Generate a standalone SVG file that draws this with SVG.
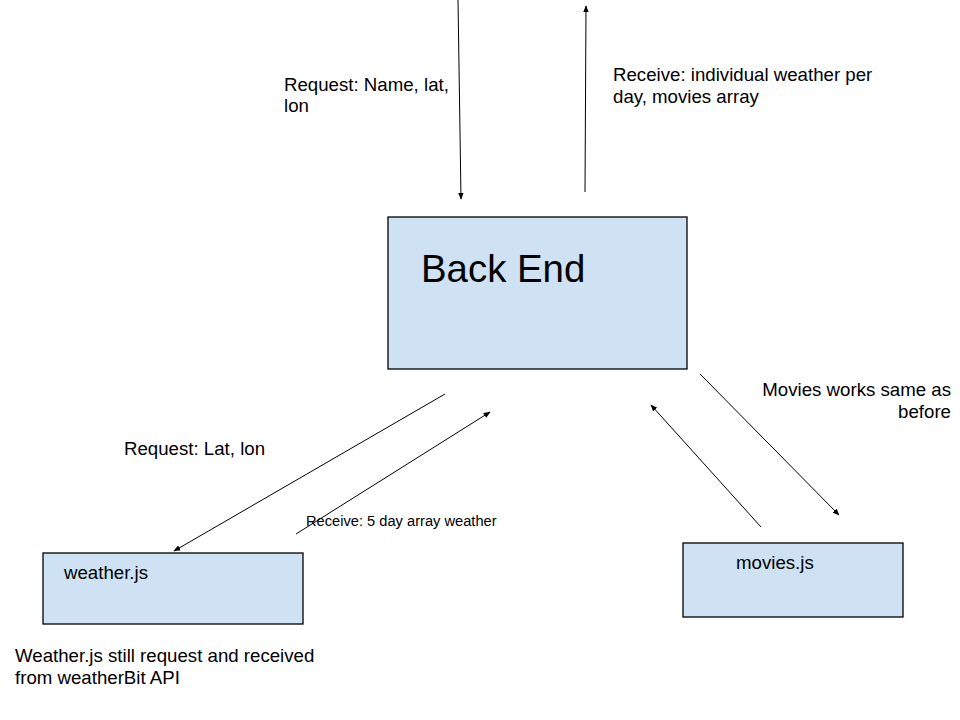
<svg xmlns="http://www.w3.org/2000/svg" width="960" height="720" viewBox="0 0 960 720">
<style>
.box{fill:#cfe2f3;stroke:#000;stroke-width:1.3}
.t{font-family:"Liberation Sans",Arial,sans-serif;font-size:18.67px;fill:#000}
.s{font-size:14.67px}
.big{font-size:38.4px}
.c{stroke:#000;stroke-width:1;fill:none;marker-end:url(#ah)}
</style>
<defs>
<marker id="ah" viewBox="0 0 10 10" refX="9" refY="5" markerWidth="7" markerHeight="7" markerUnits="userSpaceOnUse" orient="auto">
<path d="M0,1 L10,5 L0,9 Z" fill="#000"/>
</marker>
</defs>
<rect width="960" height="720" fill="#fff"/>
<g id="connectors">
<line class="c" x1="458" y1="0" x2="461" y2="199"/>
<line class="c" x1="585" y1="192" x2="586" y2="6"/>
<line class="c" x1="445" y1="394" x2="174" y2="551"/>
<line class="c" x1="296" y1="534" x2="490" y2="412"/>
<line class="c" x1="700" y1="374" x2="839" y2="515"/>
<line class="c" x1="761" y1="527" x2="651" y2="405"/>
</g>
<g id="backend">
<rect class="box" x="388" y="217" width="299" height="152"/>
<text class="t big" x="421" y="282">Back End</text>
</g>
<g id="weather">
<rect class="box" x="43" y="553" width="260" height="71"/>
<text class="t" x="64" y="579">weather.js</text>
</g>
<g id="movies">
<rect class="box" x="683" y="543" width="220" height="74"/>
<text class="t" x="736" y="569">movies.js</text>
</g>
<g id="labels">
<text class="t" x="284" y="91">Request: Name, lat,</text>
<text class="t" x="284" y="112">lon</text>
<text class="t" x="613" y="81">Receive: individual weather per</text>
<text class="t" x="613" y="103">day, movies array</text>
<text class="t" x="124" y="455">Request: Lat, lon</text>
<text class="t s" x="306" y="526">Receive: 5 day array weather</text>
<text class="t" x="951" y="396" text-anchor="end">Movies works same as</text>
<text class="t" x="951" y="418" text-anchor="end">before</text>
<text class="t" x="15" y="662">Weather.js still request and received</text>
<text class="t" x="15" y="684">from weatherBit API</text>
</g>
</svg>
